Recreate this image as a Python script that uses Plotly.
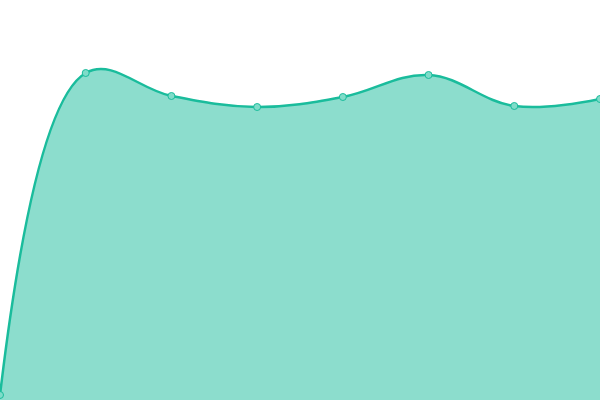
import plotly.graph_objects as go

categories = [0, 1, 2, 3, 4, 5, 6, 7]
values = [5, 327, 304, 293, 303, 325, 294, 301]

fig = go.Figure()
fig.add_trace(go.Scatter(
    x=categories, y=values, mode="lines+markers",
    line=dict(shape="spline", smoothing=1.1, color="#1abc9c", width=2.5),
    marker=dict(size=7, color="#7fdcc9", line=dict(color="#1abc9c", width=1)),
    fill="tozeroy", fillcolor="rgba(26,188,156,0.5)",
    hoverinfo="skip", cliponaxis=False,
))
fig.update_layout(
    width=600, height=400, margin=dict(l=0, r=0, t=0, b=0),
    paper_bgcolor="white", plot_bgcolor="white", showlegend=False,
    xaxis=dict(visible=False, range=[0, 7]),
    yaxis=dict(visible=False, range=[0, 400]),
)
fig.write_html("out.html", config={"displayModeBar": False},
               post_script="document.body.style.margin='0';document.body.style.overflow='hidden';")
